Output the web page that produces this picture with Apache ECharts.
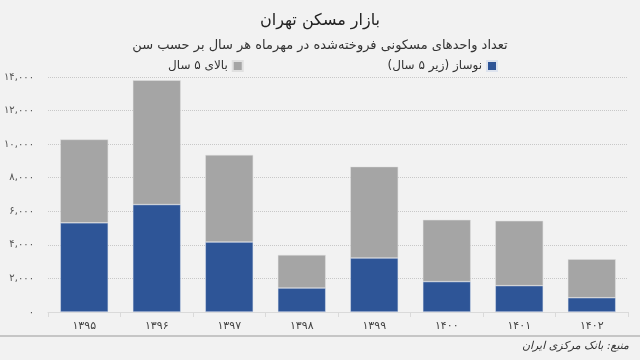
<!DOCTYPE html>
<html>
<head>
<meta charset="utf-8">
<script src="https://cdn.jsdelivr.net/npm/echarts@6/dist/echarts.min.js"></script>
<style>
html,body{margin:0;padding:0;background:#f2f2f2;}
#c{width:640px;height:360px;}
</style>
</head>
<body>
<div id="c"></div>
<script>
const categories = ['۱۳۹۵','۱۳۹۶','۱۳۹۷','۱۳۹۸','۱۳۹۹','۱۴۰۰','۱۴۰۱','۱۴۰۲'];
const newBuilt = [5310, 6400, 4170, 1430, 3220, 1810, 1570, 850];
const older = [4970, 7410, 5190, 1970, 5440, 3680, 3860, 2290];
const yTicks = [0, 2000, 4000, 6000, 8000, 10000, 12000, 14000];

const RLE = '\u202B', PDF = '\u202C';
const nameNew = 'نوساز (زیر ۵ سال)';
const nameOld = 'بالای ۵ سال';
const FONT = 'DejaVu Sans';

function toFa(n){
  const d = '۰۱۲۳۴۵۶۷۸۹';
  if (n === 0) return '۰';
  const s = String(n).replace(/\B(?=(\d{3})+(?!\d))/g, ',');
  return s.replace(/\d/g, c => d[+c]);
}

const chart = echarts.init(document.getElementById('c'));
chart.setOption({
  backgroundColor: '#f2f2f2',
  textStyle: { fontFamily: FONT },
  title: [
    { text: 'بازار مسکن تهران', left: 'center', top: 8,
      textStyle: { fontSize: 16, fontWeight: 'normal', color: '#222', fontFamily: FONT } },
    { text: 'تعداد واحدهای مسکونی فروخته‌شده در مهرماه هر سال بر حسب سن', left: 'center', top: 34,
      textStyle: { fontSize: 13, fontWeight: 'normal', color: '#333', fontFamily: FONT } }
  ],
  legend: [
    { data: [nameNew], right: 137, top: 55, align: 'right', icon: 'rect', itemWidth: 10, itemHeight: 10,
      formatter: n => RLE + n + PDF,
      textStyle: { fontSize: 12, color: '#333', fontFamily: FONT } },
    { data: [nameOld], left: 163, top: 55, align: 'right', icon: 'rect', itemWidth: 10, itemHeight: 10,
      formatter: n => RLE + n + PDF,
      textStyle: { fontSize: 12, color: '#333', fontFamily: FONT } }
  ],
  grid: { left: 48, right: 12, top: 77, bottom: 48 },
  xAxis: {
    type: 'category', data: categories,
    axisLine: { show: true, lineStyle: { color: '#dadada' } },
    axisTick: { show: true, lineStyle: { color: '#dadada' } },
    axisLabel: { fontSize: 11, color: '#444', margin: 9, fontFamily: FONT }
  },
  yAxis: {
    type: 'value', min: 0, max: 14000, interval: 2000,
    axisLine: { show: false }, axisTick: { show: false },
    axisLabel: { fontSize: 10, color: '#555', margin: 14, fontFamily: FONT,
      formatter: v => yTicks.includes(v) ? toFa(v) : '' },
    splitLine: { lineStyle: { color: '#c8c8c8', type: 'dotted' } }
  },
  series: [
    { name: nameNew, type: 'bar', stack: 't', data: newBuilt, barWidth: '66%',
      itemStyle: { color: '#2e5597', borderColor: '#dde3ee', borderWidth: 0.5 } },
    { name: nameOld, type: 'bar', stack: 't', data: older, barWidth: '66%',
      itemStyle: { color: '#a5a5a5', borderColor: '#e0e0e0', borderWidth: 0.5 } }
  ],
  graphic: [
    { type: 'line', shape: { x1: 0, y1: 336, x2: 640, y2: 336 }, style: { stroke: '#9a9a9a', lineWidth: 1 } },
    { type: 'text', right: 11, top: 341,
      style: { text: RLE + 'منبع: بانک مرکزی ایران' + PDF, fontSize: 11, fill: '#333', fontStyle: 'italic', fontFamily: FONT } }
  ]
});
</script>
</body>
</html>
